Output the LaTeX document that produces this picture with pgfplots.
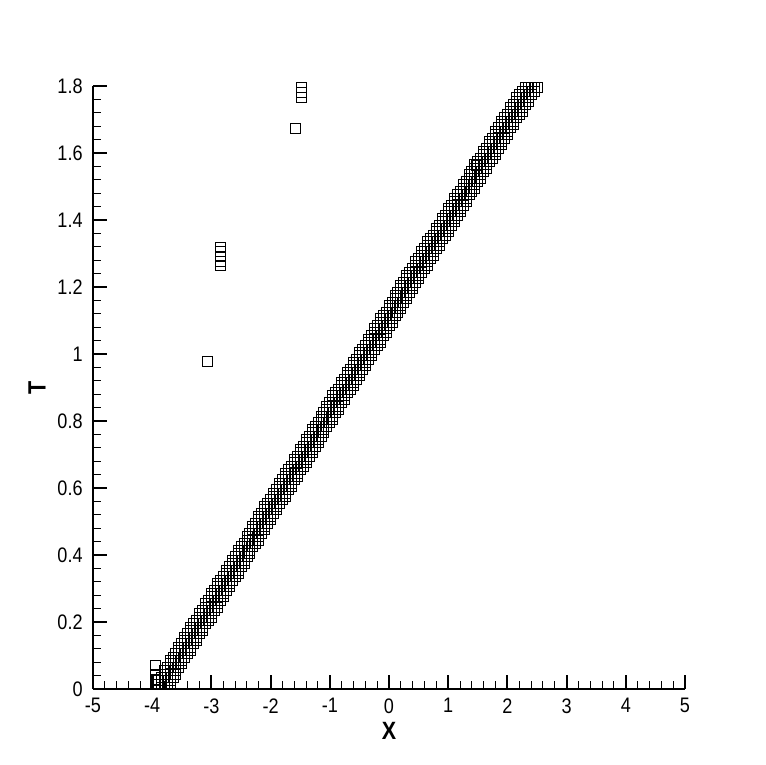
\documentclass[border=0pt]{standalone}
\usepackage{pgfplots}
\usepackage{pgfplotstable}
\usepackage{fontspec}
\pgfplotsset{compat=1.18}
\setmainfont{Liberation Sans}[FakeStretch=0.86]

% shock cells flagged at each time level: t, then five neighbouring cells
\pgfplotstableread{
t a b c d e
0.015 -3.90 -3.85 -3.80 -3.75 -3.70
0.025 -3.90 -3.85 -3.80 -3.75 -3.70
0.035 -3.85 -3.80 -3.75 -3.70 -3.65
0.045 -3.80 -3.75 -3.70 -3.65 -3.60
0.055 -3.80 -3.75 -3.70 -3.65 -3.60
0.065 -3.75 -3.70 -3.65 -3.60 -3.55
0.075 -3.70 -3.65 -3.60 -3.55 -3.50
0.085 -3.70 -3.65 -3.60 -3.55 -3.50
0.095 -3.65 -3.60 -3.55 -3.50 -3.45
0.105 -3.60 -3.55 -3.50 -3.45 -3.40
0.115 -3.55 -3.50 -3.45 -3.40 -3.35
0.125 -3.55 -3.50 -3.45 -3.40 -3.35
0.135 -3.50 -3.45 -3.40 -3.35 -3.30
0.145 -3.45 -3.40 -3.35 -3.30 -3.25
0.155 -3.45 -3.40 -3.35 -3.30 -3.25
0.165 -3.40 -3.35 -3.30 -3.25 -3.20
0.175 -3.35 -3.30 -3.25 -3.20 -3.15
0.185 -3.35 -3.30 -3.25 -3.20 -3.15
0.195 -3.30 -3.25 -3.20 -3.15 -3.10
0.205 -3.25 -3.20 -3.15 -3.10 -3.05
0.215 -3.20 -3.15 -3.10 -3.05 -3.00
0.225 -3.20 -3.15 -3.10 -3.05 -3.00
0.235 -3.15 -3.10 -3.05 -3.00 -2.95
0.245 -3.10 -3.05 -3.00 -2.95 -2.90
0.255 -3.10 -3.05 -3.00 -2.95 -2.90
0.265 -3.05 -3.00 -2.95 -2.90 -2.85
0.275 -3.00 -2.95 -2.90 -2.85 -2.80
0.285 -3.00 -2.95 -2.90 -2.85 -2.80
0.295 -2.95 -2.90 -2.85 -2.80 -2.75
0.305 -2.90 -2.85 -2.80 -2.75 -2.70
0.315 -2.90 -2.85 -2.80 -2.75 -2.70
0.325 -2.85 -2.80 -2.75 -2.70 -2.65
0.335 -2.80 -2.75 -2.70 -2.65 -2.60
0.345 -2.75 -2.70 -2.65 -2.60 -2.55
0.355 -2.75 -2.70 -2.65 -2.60 -2.55
0.365 -2.70 -2.65 -2.60 -2.55 -2.50
0.375 -2.65 -2.60 -2.55 -2.50 -2.45
0.385 -2.65 -2.60 -2.55 -2.50 -2.45
0.395 -2.60 -2.55 -2.50 -2.45 -2.40
0.405 -2.55 -2.50 -2.45 -2.40 -2.35
0.415 -2.55 -2.50 -2.45 -2.40 -2.35
0.425 -2.50 -2.45 -2.40 -2.35 -2.30
0.435 -2.45 -2.40 -2.35 -2.30 -2.25
0.445 -2.40 -2.35 -2.30 -2.25 -2.20
0.455 -2.40 -2.35 -2.30 -2.25 -2.20
0.465 -2.35 -2.30 -2.25 -2.20 -2.15
0.475 -2.30 -2.25 -2.20 -2.15 -2.10
0.485 -2.30 -2.25 -2.20 -2.15 -2.10
0.495 -2.25 -2.20 -2.15 -2.10 -2.05
0.505 -2.20 -2.15 -2.10 -2.05 -2.00
0.515 -2.20 -2.15 -2.10 -2.05 -2.00
0.525 -2.15 -2.10 -2.05 -2.00 -1.95
0.535 -2.10 -2.05 -2.00 -1.95 -1.90
0.545 -2.10 -2.05 -2.00 -1.95 -1.90
0.555 -2.05 -2.00 -1.95 -1.90 -1.85
0.565 -2.00 -1.95 -1.90 -1.85 -1.80
0.575 -1.95 -1.90 -1.85 -1.80 -1.75
0.585 -1.95 -1.90 -1.85 -1.80 -1.75
0.595 -1.90 -1.85 -1.80 -1.75 -1.70
0.605 -1.85 -1.80 -1.75 -1.70 -1.65
0.615 -1.85 -1.80 -1.75 -1.70 -1.65
0.625 -1.80 -1.75 -1.70 -1.65 -1.60
0.635 -1.75 -1.70 -1.65 -1.60 -1.55
0.645 -1.75 -1.70 -1.65 -1.60 -1.55
0.655 -1.70 -1.65 -1.60 -1.55 -1.50
0.665 -1.65 -1.60 -1.55 -1.50 -1.45
0.675 -1.60 -1.55 -1.50 -1.45 -1.40
0.685 -1.60 -1.55 -1.50 -1.45 -1.40
0.695 -1.55 -1.50 -1.45 -1.40 -1.35
0.705 -1.50 -1.45 -1.40 -1.35 -1.30
0.715 -1.50 -1.45 -1.40 -1.35 -1.30
0.725 -1.45 -1.40 -1.35 -1.30 -1.25
0.735 -1.40 -1.35 -1.30 -1.25 -1.20
0.745 -1.40 -1.35 -1.30 -1.25 -1.20
0.755 -1.35 -1.30 -1.25 -1.20 -1.15
0.765 -1.30 -1.25 -1.20 -1.15 -1.10
0.775 -1.30 -1.25 -1.20 -1.15 -1.10
0.785 -1.25 -1.20 -1.15 -1.10 -1.05
0.795 -1.20 -1.15 -1.10 -1.05 -1.00
0.805 -1.15 -1.10 -1.05 -1.00 -0.95
0.815 -1.15 -1.10 -1.05 -1.00 -0.95
0.825 -1.10 -1.05 -1.00 -0.95 -0.90
0.835 -1.05 -1.00 -0.95 -0.90 -0.85
0.845 -1.05 -1.00 -0.95 -0.90 -0.85
0.855 -1.00 -0.95 -0.90 -0.85 -0.80
0.865 -0.95 -0.90 -0.85 -0.80 -0.75
0.875 -0.95 -0.90 -0.85 -0.80 -0.75
0.885 -0.90 -0.85 -0.80 -0.75 -0.70
0.895 -0.85 -0.80 -0.75 -0.70 -0.65
0.905 -0.80 -0.75 -0.70 -0.65 -0.60
0.915 -0.80 -0.75 -0.70 -0.65 -0.60
0.925 -0.75 -0.70 -0.65 -0.60 -0.55
0.935 -0.70 -0.65 -0.60 -0.55 -0.50
0.945 -0.70 -0.65 -0.60 -0.55 -0.50
0.955 -0.65 -0.60 -0.55 -0.50 -0.45
0.965 -0.60 -0.55 -0.50 -0.45 -0.40
0.975 -0.60 -0.55 -0.50 -0.45 -0.40
0.985 -0.55 -0.50 -0.45 -0.40 -0.35
0.995 -0.50 -0.45 -0.40 -0.35 -0.30
1.005 -0.50 -0.45 -0.40 -0.35 -0.30
1.015 -0.45 -0.40 -0.35 -0.30 -0.25
1.025 -0.40 -0.35 -0.30 -0.25 -0.20
1.035 -0.35 -0.30 -0.25 -0.20 -0.15
1.045 -0.35 -0.30 -0.25 -0.20 -0.15
1.055 -0.30 -0.25 -0.20 -0.15 -0.10
1.065 -0.25 -0.20 -0.15 -0.10 -0.05
1.075 -0.25 -0.20 -0.15 -0.10 -0.05
1.085 -0.20 -0.15 -0.10 -0.05 0.00
1.095 -0.15 -0.10 -0.05 0.00 0.05
1.105 -0.15 -0.10 -0.05 0.00 0.05
1.115 -0.10 -0.05 0.00 0.05 0.10
1.125 -0.05 0.00 0.05 0.10 0.15
1.135 0.00 0.05 0.10 0.15 0.20
1.145 0.00 0.05 0.10 0.15 0.20
1.155 0.05 0.10 0.15 0.20 0.25
1.165 0.10 0.15 0.20 0.25 0.30
1.175 0.10 0.15 0.20 0.25 0.30
1.185 0.15 0.20 0.25 0.30 0.35
1.195 0.20 0.25 0.30 0.35 0.40
1.205 0.20 0.25 0.30 0.35 0.40
1.215 0.25 0.30 0.35 0.40 0.45
1.225 0.30 0.35 0.40 0.45 0.50
1.235 0.30 0.35 0.40 0.45 0.50
1.245 0.35 0.40 0.45 0.50 0.55
1.255 0.40 0.45 0.50 0.55 0.60
1.265 0.45 0.50 0.55 0.60 0.65
1.275 0.45 0.50 0.55 0.60 0.65
1.285 0.50 0.55 0.60 0.65 0.70
1.295 0.55 0.60 0.65 0.70 0.75
1.305 0.55 0.60 0.65 0.70 0.75
1.315 0.60 0.65 0.70 0.75 0.80
1.325 0.65 0.70 0.75 0.80 0.85
1.335 0.65 0.70 0.75 0.80 0.85
1.345 0.70 0.75 0.80 0.85 0.90
1.355 0.75 0.80 0.85 0.90 0.95
1.365 0.80 0.85 0.90 0.95 1.00
1.375 0.80 0.85 0.90 0.95 1.00
1.385 0.85 0.90 0.95 1.00 1.05
1.395 0.90 0.95 1.00 1.05 1.10
1.405 0.90 0.95 1.00 1.05 1.10
1.415 0.95 1.00 1.05 1.10 1.15
1.425 1.00 1.05 1.10 1.15 1.20
1.435 1.00 1.05 1.10 1.15 1.20
1.445 1.05 1.10 1.15 1.20 1.25
1.455 1.10 1.15 1.20 1.25 1.30
1.465 1.10 1.15 1.20 1.25 1.30
1.475 1.15 1.20 1.25 1.30 1.35
1.485 1.20 1.25 1.30 1.35 1.40
1.495 1.25 1.30 1.35 1.40 1.45
1.505 1.25 1.30 1.35 1.40 1.45
1.515 1.30 1.35 1.40 1.45 1.50
1.525 1.35 1.40 1.45 1.50 1.55
1.535 1.35 1.40 1.45 1.50 1.55
1.545 1.40 1.45 1.50 1.55 1.60
1.555 1.45 1.50 1.55 1.60 1.65
1.565 1.45 1.50 1.55 1.60 1.65
1.575 1.50 1.55 1.60 1.65 1.70
1.585 1.55 1.60 1.65 1.70 1.75
1.595 1.60 1.65 1.70 1.75 1.80
1.605 1.60 1.65 1.70 1.75 1.80
1.615 1.65 1.70 1.75 1.80 1.85
1.625 1.70 1.75 1.80 1.85 1.90
1.635 1.70 1.75 1.80 1.85 1.90
1.645 1.75 1.80 1.85 1.90 1.95
1.655 1.80 1.85 1.90 1.95 2.00
1.665 1.80 1.85 1.90 1.95 2.00
1.675 1.85 1.90 1.95 2.00 2.05
1.685 1.90 1.95 2.00 2.05 2.10
1.695 1.90 1.95 2.00 2.05 2.10
1.705 1.95 2.00 2.05 2.10 2.15
1.715 2.00 2.05 2.10 2.15 2.20
1.725 2.05 2.10 2.15 2.20 2.25
1.735 2.05 2.10 2.15 2.20 2.25
1.745 2.10 2.15 2.20 2.25 2.30
1.755 2.15 2.20 2.25 2.30 2.35
1.765 2.15 2.20 2.25 2.30 2.35
1.775 2.20 2.25 2.30 2.35 2.40
1.785 2.25 2.30 2.35 2.40 2.45
1.795 2.30 2.35 2.40 2.45 2.50
}\band

\begin{document}
\begin{tikzpicture}
  \begin{axis}[
    scale only axis,
    width=296pt, height=301.5pt,
    xmin=-5, xmax=5, ymin=0, ymax=1.8,
    axis lines=left,
    axis line style={-, line width=1.2pt},
    clip=false,
    xtick={-5,-4,-3,-2,-1,0,1,2,3,4,5},
    ytick={0,0.2,0.4,0.6,0.8,1,1.2,1.4,1.6,1.8},
    minor x tick num=4,
    minor y tick num=4,
    tick align=inside,
    major tick length=7pt,
    minor tick length=4pt,
    every major tick/.append style={line width=1pt, black},
    every minor tick/.append style={line width=0.5pt, black},
    /pgf/number format/assume math mode=true,
    tick label style={font=\fontsize{10.5}{12}\selectfont},
    xticklabel style={inner sep=0pt, yshift=-4.5pt},
    yticklabel style={inner sep=0pt, xshift=-5pt},
    xlabel={X}, ylabel={T},
    label style={font=\fontsize{12.5}{14}\selectfont\bfseries},
    xlabel style={at={(axis description cs:0.5,-0.0547)}, anchor=north, inner sep=0pt},
    ylabel style={at={(axis description cs:-0.0946,0.5)}, anchor=center, inner sep=0pt},
    sq/.style={only marks, mark=square, mark size=2.5pt,
      mark options={line width=0.4pt, draw=black, fill=none}},
  ]
    \addplot[sq] table[x=a, y=t] {\band};
    \addplot[sq] table[x=b, y=t] {\band};
    \addplot[sq] table[x=c, y=t] {\band};
    \addplot[sq] table[x=d, y=t] {\band};
    \addplot[sq] table[x=e, y=t] {\band};
    % extra cells and stray detections
    \addplot[sq] coordinates {
      (-3.95,0.015) (-3.95,0.030) (-3.95,0.045) (-3.95,0.069)
      (1.47,1.564)
      (-3.07,0.979)
      (-2.84,1.263) (-2.84,1.277) (-2.84,1.291) (-2.84,1.305) (-2.84,1.319)
      (-1.58,1.674)
      (-1.48,1.766) (-1.48,1.781) (-1.48,1.795)
    };
  \end{axis}
  \pgfresetboundingbox
  \path[use as bounding box] (-46.5pt,-38pt) rectangle (336pt,344.5pt);
\end{tikzpicture}
\end{document}
